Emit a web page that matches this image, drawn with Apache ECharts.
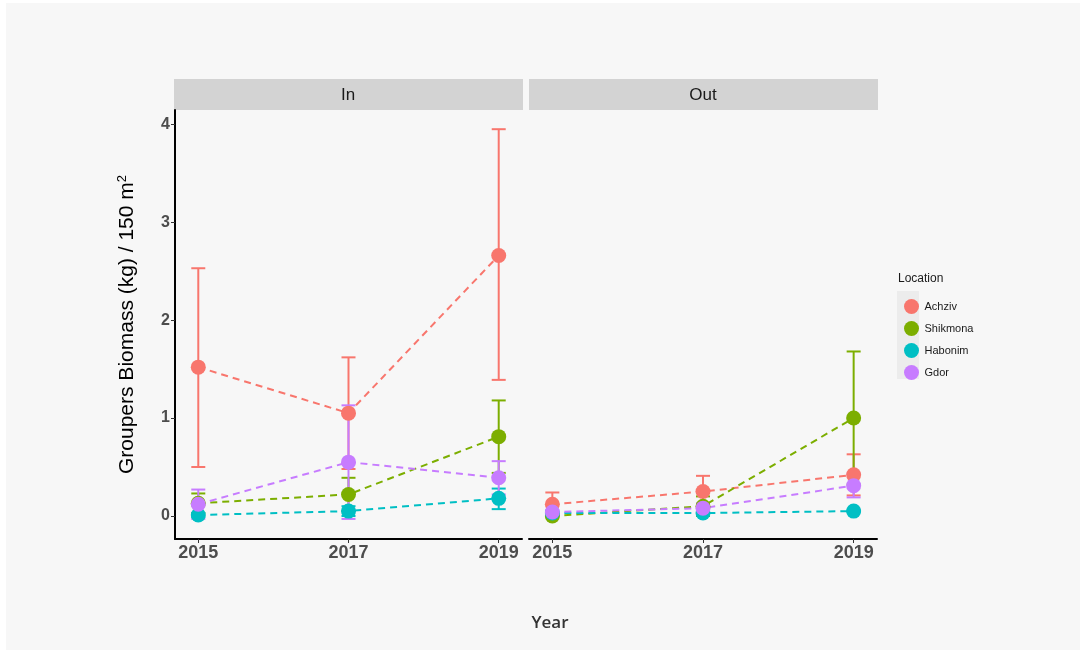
<!DOCTYPE html>
<html>
<head>
<meta charset="utf-8">
<script src="https://cdn.jsdelivr.net/npm/echarts@6/dist/echarts.min.js"></script>
<style>
  body { margin: 0; background: #fff; }
  #bg { position: absolute; left: 6px; top: 3px; width: 1074px; height: 647px; background: #f7f7f7; }
  #main { position: absolute; left: 0; top: 0; width: 1084px; height: 654px; }
</style>
</head>
<body>
<div id="bg"></div>
<div id="main"></div>
<script>
// 数据：年份、地点、各面板的均值与误差上下限
var years = [2015, 2017, 2019];
var locations = ['Achziv', 'Shikmona', 'Habonim', 'Gdor'];
var colors = ['#F8766D', '#7CAE00', '#00BFC4', '#C77CFF'];
var yTicks = [0, 1, 2, 3, 4];

// In 面板 (每行一个地点)
var inMean = [[1.52, 1.05, 2.66], [0.13, 0.22, 0.81], [0.01, 0.05, 0.18], [0.12, 0.55, 0.39]];
var inLow  = [[0.50, 0.48, 1.39], [0.03, 0.05, 0.44], [-0.01, 0.00, 0.07], [-0.03, -0.03, 0.22]];
var inHigh = [[2.53, 1.62, 3.95], [0.23, 0.39, 1.18], [0.03, 0.10, 0.28], [0.27, 1.13, 0.56]];

// Out 面板
var outMean = [[0.12, 0.25, 0.42], [0.00, 0.10, 1.00], [0.03, 0.03, 0.05], [0.04, 0.08, 0.31]];
var outLow  = [[0.00, 0.09, 0.21], [-0.01, 0.00, 0.32], [0.02, 0.02, 0.04], [0.02, 0.03, 0.19]];
var outHigh = [[0.24, 0.41, 0.63], [0.01, 0.20, 1.68], [0.04, 0.04, 0.06], [0.06, 0.13, 0.43]];

var myChart = echarts.init(document.getElementById('main'));

function errorBarRender(params, api) {
    var x = api.value(0);
    var top = api.coord([x, api.value(2)]);
    var bot = api.coord([x, api.value(1)]);
    var half = 7;
    var style = { stroke: api.visual('color'), lineWidth: 2 };
    return {
        type: 'group',
        children: [
            { type: 'line', shape: { x1: top[0], y1: top[1], x2: bot[0], y2: bot[1] }, style: style },
            { type: 'line', shape: { x1: top[0] - half, y1: top[1], x2: top[0] + half, y2: top[1] }, style: style },
            { type: 'line', shape: { x1: bot[0] - half, y1: bot[1], x2: bot[0] + half, y2: bot[1] }, style: style }
        ]
    };
}

var series = [];
function addPanel(idx, mean, low, high) {
    locations.forEach(function (loc, i) {
        series.push({
            name: loc,
            type: 'custom',
            xAxisIndex: idx,
            yAxisIndex: idx,
            itemStyle: { color: colors[i] },
            renderItem: errorBarRender,
            data: years.map(function (y, j) { return [y, low[i][j], high[i][j]]; }),
            z: 2
        });
        series.push({
            name: loc,
            type: 'line',
            xAxisIndex: idx,
            yAxisIndex: idx,
            symbol: 'circle',
            symbolSize: 15,
            itemStyle: { color: colors[i] },
            lineStyle: { color: colors[i], width: 2, type: [7, 5] },
            data: years.map(function (y, j) { return [y, mean[i][j]]; }),
            z: 3
        });
    });
}
addPanel(0, inMean, inLow, inHigh);
addPanel(1, outMean, outLow, outHigh);

var xAxisBase = function (gi) {
    return {
        type: 'value',
        gridIndex: gi,
        min: 2014.69,
        max: 2019.31,
        axisLine: { show: true, onZero: false, lineStyle: { color: '#000', width: 2 } },
        axisTick: { show: true, length: 4, customValues: years, lineStyle: { color: '#333' } },
        axisLabel: {
            customValues: years,
            formatter: function (v) { return String(v); },
            color: '#4d4d4d',
            fontSize: 18,
            fontWeight: 'bold',
            fontFamily: 'Liberation Sans',
            margin: 5
        },
        splitLine: { show: false }
    };
};

option = {
    animation: false,
    grid: [
        { left: 175, top: 110, width: 347, height: 429 },
        { left: 529, top: 110, width: 348, height: 429 }
    ],
    xAxis: [xAxisBase(0), xAxisBase(1)],
    yAxis: [
        {
            type: 'value',
            gridIndex: 0,
            min: -0.235,
            max: 4.146,
            axisLine: { show: true, lineStyle: { color: '#000', width: 2 } },
            axisTick: { show: true, length: 4, customValues: yTicks, lineStyle: { color: '#333' } },
            axisLabel: {
                customValues: yTicks,
                color: '#4d4d4d',
                fontSize: 16,
                fontWeight: 'bold',
                fontFamily: 'Liberation Sans',
                margin: 5
            },
            splitLine: { show: false },
            name: '{a|Groupers Biomass (kg) / 150 m}{s|2}',
            nameLocation: 'middle',
            nameGap: 36,
            nameTextStyle: {
                rich: {
                    a: { fontSize: 21, color: '#000', fontFamily: 'Liberation Sans' },
                    s: { fontSize: 13, color: '#000', fontFamily: 'Liberation Sans', verticalAlign: 'top', padding: [0, 0, 10, 0] }
                }
            }
        },
        {
            type: 'value',
            gridIndex: 1,
            min: -0.235,
            max: 4.146,
            show: false,
            splitLine: { show: false }
        }
    ],
    legend: {
        orient: 'vertical',
        left: 899,
        top: 294,
        itemWidth: 16,
        itemHeight: 15,
        itemGap: 7,
        icon: 'circle',
        data: locations,
        selectedMode: false,
        textStyle: { fontSize: 11, color: '#1a1a1a', fontFamily: 'Liberation Sans' }
    },
    graphic: [
        // 分面标题条
        { type: 'rect', left: 174, top: 79, shape: { width: 349, height: 31 }, style: { fill: '#d3d3d3' }, z: 0 },
        { type: 'rect', left: 529, top: 79, shape: { width: 349, height: 31 }, style: { fill: '#d3d3d3' }, z: 0 },
        { type: 'text', x: 348, y: 95, style: { text: 'In', fill: '#1a1a1a', fontSize: 17, fontFamily: 'Liberation Sans', align: 'center', verticalAlign: 'middle' }, z: 1 },
        { type: 'text', x: 703, y: 95, style: { text: 'Out', fill: '#1a1a1a', fontSize: 17, fontFamily: 'Liberation Sans', align: 'center', verticalAlign: 'middle' }, z: 1 },
        // 图例
        { type: 'rect', left: 897, top: 291, shape: { width: 22, height: 88 }, style: { fill: '#ececec' }, z: 0 },
        { type: 'text', x: 898, y: 279, style: { text: 'Location', fill: '#1a1a1a', fontSize: 12, fontFamily: 'Liberation Sans', verticalAlign: 'middle' }, z: 1 },
        // x 轴标题
        { type: 'text', x: 550, y: 623, style: { text: 'Year', fill: '#333', fontSize: 17, fontWeight: 600, fontFamily: 'Open Sans', align: 'center', verticalAlign: 'middle' }, z: 1 }
    ],
    series: series
};

myChart.setOption(option);
</script>
</body>
</html>
